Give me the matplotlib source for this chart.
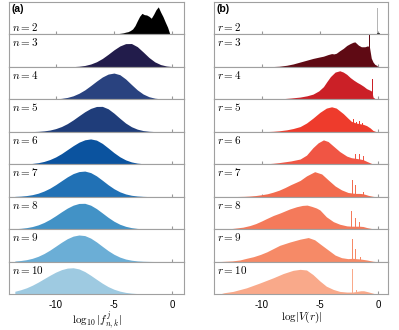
import matplotlib.pyplot as plt
import numpy as np

plt.rcParams['font.family'] = ['Liberation Sans', 'DejaVu Sans']
plt.rcParams['mathtext.fontset'] = 'cm'
plt.rcParams['axes.unicode_minus'] = False

# ---------------- panel (a): log10 |f^j_{n,k}| ----------------
grid_a = np.arange(-13.5, 0.51, 0.5)

n2_x = np.arange(-6.0, 0.01, 0.2)
n2_h = [0, 0.004, 0.006, 0.008, 0.01, 0.014, 0.02, 0.028, 0.038, 0.05, 0.07,
        0.085, 0.12, 0.17, 0.27, 0.42, 0.56, 0.65, 0.61, 0.6, 0.56, 0.5,
        0.62, 0.76, 0.85, 0.69, 0.55, 0.38, 0.22, 0.0, 0.0]

n3_h = [0, 0, 0, 0, 0, 0, 0, 0, 0.001, 0.003, 0.008, 0.02, 0.044, 0.088,
        0.158, 0.259, 0.388, 0.526, 0.644, 0.717, 0.72, 0.624, 0.461, 0.29,
        0.155, 0.071, 0.028, 0.009, 0.002]
n4_h = [0, 0, 0, 0, 0.001, 0.002, 0.006, 0.014, 0.03, 0.059, 0.109, 0.187,
        0.292, 0.423, 0.561, 0.688, 0.778, 0.81, 0.76, 0.628, 0.457, 0.292,
        0.164, 0.081, 0.036, 0.014, 0.005, 0.001, 0]
n5_h = [0, 0.001, 0.002, 0.006, 0.013, 0.028, 0.053, 0.097, 0.162, 0.252,
        0.366, 0.494, 0.618, 0.72, 0.78, 0.783, 0.709, 0.574, 0.417, 0.269,
        0.156, 0.081, 0.037, 0.016, 0.006, 0.002, 0, 0, 0]
n6_h = [0.002, 0.005, 0.012, 0.024, 0.047, 0.086, 0.144, 0.224, 0.327, 0.449,
        0.571, 0.679, 0.753, 0.78, 0.743, 0.642, 0.502, 0.357, 0.23, 0.134,
        0.071, 0.034, 0.015, 0.006, 0.002, 0.001, 0, 0, 0]
n7_h = [0.008, 0.017, 0.034, 0.062, 0.107, 0.174, 0.261, 0.37, 0.491, 0.611,
        0.711, 0.773, 0.789, 0.742, 0.641, 0.507, 0.368, 0.245, 0.15, 0.084,
        0.043, 0.021, 0.009, 0.003, 0.001, 0, 0, 0, 0]
n8_h = [0.012, 0.024, 0.045, 0.079, 0.131, 0.205, 0.3, 0.413, 0.534, 0.648,
        0.738, 0.791, 0.795, 0.738, 0.632, 0.499, 0.363, 0.243, 0.15, 0.086,
        0.045, 0.021, 0.01, 0.004, 0.001, 0, 0, 0, 0]
n9_h = [0.016, 0.032, 0.058, 0.1, 0.162, 0.247, 0.352, 0.473, 0.595, 0.705,
        0.784, 0.819, 0.8, 0.723, 0.606, 0.47, 0.337, 0.224, 0.138, 0.078,
        0.042, 0.02, 0.009, 0.004, 0.001, 0, 0, 0, 0]
n10_h = [0.084, 0.131, 0.191, 0.271, 0.366, 0.471, 0.576, 0.673, 0.75, 0.798,
         0.809, 0.773, 0.691, 0.578, 0.454, 0.333, 0.228, 0.147, 0.089, 0.05,
         0.027, 0.013, 0.006, 0.003, 0.001, 0, 0, 0, 0]

labels_a = [r'$n=%d$' % k for k in range(2, 11)]
colors_a = ['#000000', '#221c4b', '#29427f', '#1f3d7a', '#0b539f',
            '#2171b5', '#4292c6', '#6baed6', '#9ecae1']

# ---------------- panel (b): log |V(r)| ----------------
r2_spike_x = [-0.05]
r2_spike_h = [0.8]

r3_x = [-9.6, -8.5, -7.85, -7.3, -6.7, -6.1, -5.6, -5.1, -4.7, -4.3, -4.0, -3.8,
        -3.6, -3.3, -3.0, -2.7, -2.4, -2.15, -2.0, -1.85, -1.7, -1.45, -1.15,
        -0.9, -0.75, -0.6, -0.45, -0.3, -0.15, 0.0]
r3_h = [0, 0.02, 0.05, 0.09, 0.15, 0.21, 0.26, 0.3, 0.33, 0.38, 0.41, 0.40,
        0.42, 0.5, 0.57, 0.66, 0.72, 0.76, 0.77, 0.72, 0.67, 0.62, 0.62,
        0.65, 0.6, 0.27, 0.15, 0.08, 0.05, 0]
r3_spike_x = [-0.72]
r3_spike_h = [0.97]

r4_x = [-9.0, -8.2, -7.5, -6.7, -6.1, -5.6, -5.1, -4.7, -4.4, -4.1, -3.7, -3.3,
        -3.0, -2.7, -2.4, -2.1, -1.8, -1.55, -1.25, -1.0, -0.7, -0.55, -0.45, -0.2]
r4_h = [0, 0.02, 0.04, 0.07, 0.11, 0.16, 0.26, 0.39, 0.55, 0.7, 0.84, 0.88,
        0.84, 0.77, 0.67, 0.59, 0.52, 0.47, 0.4, 0.33, 0.28, 0.25, 0.07, 0]
r4_spike_x = [-0.51]
r4_spike_h = [0.64]

r5_x = [-10.5, -9.6, -9.0, -8.5, -7.85, -7.3, -6.7, -6.15, -5.6, -5.0, -4.45,
        -4.0, -3.6, -3.0, -2.6, -2.3, -1.9, -1.6, -1.3, -1.0, -0.7, -0.45, -0.15]
r5_h = [0, 0.005, 0.015, 0.03, 0.06, 0.1, 0.16, 0.27, 0.42, 0.6, 0.73,
        0.77, 0.73, 0.56, 0.42, 0.32, 0.27, 0.25, 0.23, 0.19, 0.12, 0.04, 0]
r5_spike_x = [-2.15, -1.88, -1.6, -1.35, -1.05]
r5_spike_h = [0.39, 0.31, 0.32, 0.28, 0.26]

r6_x = [-11.6, -10.5, -9.5, -9.0, -8.5, -8.0, -7.5, -7.1, -6.7, -6.15, -5.6,
        -5.15, -4.7, -4.3, -3.85, -3.3, -2.7, -2.3, -1.9, -1.55, -1.3, -1.0,
        -0.55, -0.3]
r6_h = [0, 0.005, 0.015, 0.03, 0.05, 0.075, 0.1, 0.13, 0.16, 0.28, 0.51,
        0.66, 0.75, 0.7, 0.56, 0.39, 0.25, 0.2, 0.18, 0.16, 0.14, 0.09,
        0.02, 0]
r6_spike_x = [-2.25, -1.92, -1.6, -1.3]
r6_spike_h = [0.4, 0.33, 0.31, 0.25]

r7_x = [-12.7, -11.5, -11.0, -10.5, -10.0, -9.5, -9.0, -8.5, -8.0, -7.5, -7.0,
        -6.7, -6.15, -5.45, -4.85, -4.3, -3.7, -3.15, -2.6, -2.2, -1.9, -1.6,
        -1.3, -0.85, -0.45, -0.2]
r7_h = [0, 0.01, 0.02, 0.035, 0.06, 0.09, 0.14, 0.2, 0.28, 0.37, 0.45,
        0.5, 0.64, 0.77, 0.7, 0.52, 0.33, 0.21, 0.13, 0.11, 0.1, 0.1,
        0.09, 0.04, 0.01, 0]
r7_spike_x = [-2.2, -1.92, -1.65, -1.3]
r7_spike_h = [0.5, 0.37, 0.29, 0.15]

r8_x = [-13.6, -12.5, -11.6, -11.0, -10.5, -10.0, -9.6, -9.0, -8.4, -7.6, -7.0,
        -6.5, -6.1, -5.7, -5.3, -5.0, -4.45, -3.85, -3.3, -2.7, -2.3, -1.9,
        -1.6, -1.3, -1.0, -0.6, -0.3]
r8_h = [0, 0.02, 0.06, 0.11, 0.17, 0.25, 0.32, 0.42, 0.5, 0.62, 0.69,
        0.73, 0.74, 0.7, 0.65, 0.59, 0.38, 0.23, 0.15, 0.1, 0.09, 0.09,
        0.09, 0.08, 0.05, 0.02, 0]
r8_spike_x = [-2.28, -1.92, -1.62]
r8_spike_h = [0.56, 0.35, 0.23]

r9_x = [-13.6, -12.5, -11.85, -11.3, -10.7, -10.1, -9.55, -9.0, -8.45, -7.6,
        -6.7, -6.0, -5.45, -4.9, -4.3, -3.7, -3.15, -2.6, -2.2, -1.9, -1.55,
        -1.0, -0.45, -0.2]
r9_h = [0, 0.02, 0.05, 0.1, 0.15, 0.22, 0.3, 0.4, 0.5, 0.6,
        0.69, 0.74, 0.67, 0.52, 0.36, 0.2, 0.12, 0.09, 0.1, 0.09, 0.08,
        0.05, 0.01, 0]
r9_spike_x = [-2.22, -1.92, -1.55]
r9_spike_h = [0.7, 0.4, 0.15]

r10_x = [-13.6, -13.2, -12.45, -11.3, -10.15, -9.0, -8.15, -7.3, -6.7, -6.15,
         -5.6, -5.0, -4.45, -3.85, -3.3, -2.7, -2.2, -1.85, -1.5, -1.25, -0.9,
         -0.6, -0.3, -0.1]
r10_h = [0, 0.04, 0.08, 0.19, 0.34, 0.5, 0.63, 0.73, 0.76, 0.74,
         0.6, 0.4, 0.24, 0.14, 0.08, 0.06, 0.06, 0.08, 0.1, 0.1, 0.07,
         0.04, 0.01, 0]
r10_spike_x = [-2.2, -1.85]
r10_spike_h = [0.78, 0.12]

labels_b = [r'$r=%d$' % k for k in range(2, 11)]
colors_b = ['#b5b5b5', '#5f0a14', '#cb2027', '#ee3b2c', '#f05544',
            '#f26b4e', '#f47a5b', '#f68a67', '#f9a98a']

rows_a = [(n2_x, n2_h)] + [(grid_a, h) for h in
                           [n3_h, n4_h, n5_h, n6_h, n7_h, n8_h, n9_h, n10_h]]
rows_b = [([], [], r2_spike_x, r2_spike_h),
          (r3_x, r3_h, r3_spike_x, r3_spike_h),
          (r4_x, r4_h, r4_spike_x, r4_spike_h),
          (r5_x, r5_h, r5_spike_x, r5_spike_h),
          (r6_x, r6_h, r6_spike_x, r6_spike_h),
          (r7_x, r7_h, r7_spike_x, r7_spike_h),
          (r8_x, r8_h, r8_spike_x, r8_spike_h),
          (r9_x, r9_h, r9_spike_x, r9_spike_h),
          (r10_x, r10_h, r10_spike_x, r10_spike_h)]

fig = plt.figure(figsize=(3.99, 3.30), dpi=100)
gs_a = fig.add_gridspec(9, 1, left=9 / 399, right=184.3 / 399,
                        top=1 - 2 / 330, bottom=1 - 294 / 330, hspace=0)
gs_b = fig.add_gridspec(9, 1, left=214 / 399, right=388.3 / 399,
                        top=1 - 2 / 330, bottom=1 - 294 / 330, hspace=0)


def style(ax, xlim, last):
    ax.set_xlim(*xlim)
    ax.set_ylim(0, 1)
    ax.set_yticks([])
    ax.set_xticks([-10, -5, 0])
    ax.set_axisbelow(True)
    ax.tick_params(direction='in', length=2, color='#999999',
                   labelbottom=last, labelsize=7, pad=4)
    for sp in ax.spines.values():
        sp.set_color('#a0a0a0')
        sp.set_linewidth(0.8)


for i in range(9):
    ax = fig.add_subplot(gs_a[i])
    x, h = rows_a[i]
    ax.fill_between(x, 0, h, color=colors_a[i], lw=0)
    style(ax, (-14.0, 1.03), i == 8)
    if i == 0:
        ax.text(0.012, 0.95, '(a)', transform=ax.transAxes, va='top',
                fontsize=7.5, fontweight='bold')
        ax.text(0.015, 0.42, labels_a[i], transform=ax.transAxes, va='top',
                fontsize=8)
    else:
        ax.text(0.015, 0.94, labels_a[i], transform=ax.transAxes, va='top',
                fontsize=8)
    if i == 8:
        ax.set_xlabel(r'$\log_{10}|f^{j}_{n,k}|$', fontsize=8, labelpad=0)

for i in range(9):
    ax = fig.add_subplot(gs_b[i])
    x, h, sx, sh = rows_b[i]
    if len(x):
        ax.fill_between(x, 0, h, color=colors_b[i], lw=0)
    ax.bar(sx, sh, width=0.08, color=colors_b[i], lw=0)
    if i == 0:
        ax.plot(r2_spike_x, [0.02], 's', ms=1.2, color='#333333')
    style(ax, (-14.08, 0.86), i == 8)
    if i == 0:
        ax.text(0.012, 0.95, '(b)', transform=ax.transAxes, va='top',
                fontsize=7.5, fontweight='bold')
        ax.text(0.015, 0.42, labels_b[i], transform=ax.transAxes, va='top',
                fontsize=8)
    else:
        ax.text(0.015, 0.94, labels_b[i], transform=ax.transAxes, va='top',
                fontsize=8)
    if i == 8:
        ax.set_xlabel(r'$\log|V(r)|$', fontsize=8, labelpad=0)

fig.savefig('out.png', dpi=100)
